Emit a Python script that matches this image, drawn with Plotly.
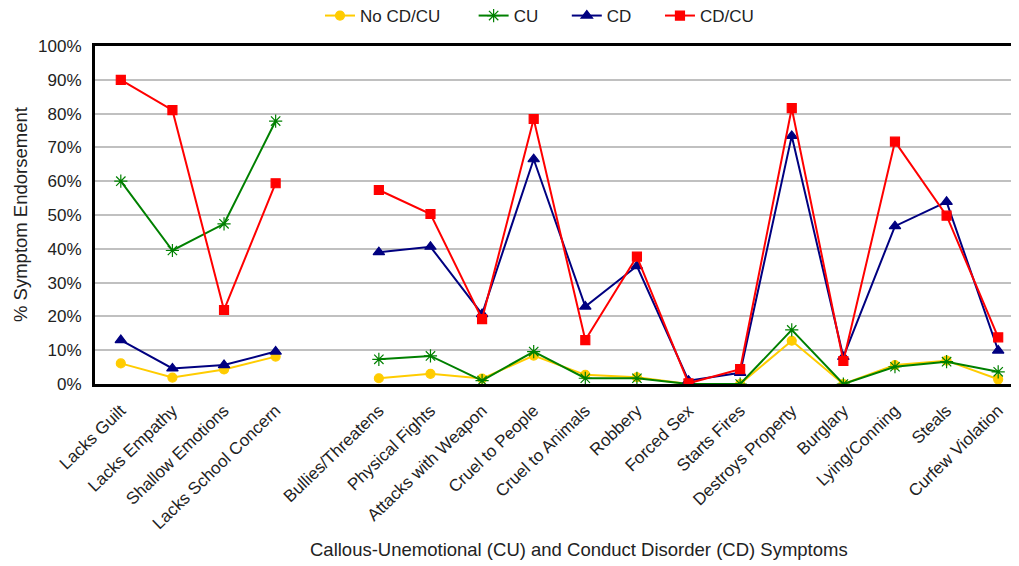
import plotly.graph_objects as go

categories = ["Lacks Guilt", "Lacks Empathy", "Shallow Emotions", "Lacks School Concern", " ",
              "Bullies/Threatens", "Physical Fights", "Attacks with Weapon", "Cruel to People",
              "Cruel to Animals", "Robbery", "Forced Sex", "Starts Fires", "Destroys Property",
              "Burglary", "Lying/Conning", "Steals", "Curfew Violation"]

no_cd_cu = [6.1, 1.9, 4.3, 8.1, None, 1.7, 3.0, 1.6, 8.4, 2.7, 2.0, 0.0, 0.0, 12.8, 0.0, 5.6, 6.9, 1.4]
cu       = [60.0, 39.5, 47.4, 77.8, None, 7.3, 8.3, 1.0, 9.6, 1.7, 1.7, 0.0, 0.0, 16.0, 0.0, 5.1, 6.6, 3.6]
cd       = [13.0, 4.6, 5.6, 9.6, None, 39.0, 40.6, 20.7, 66.5, 22.9, 34.9, 1.0, 3.3, 73.4, 8.0, 46.7, 53.9, 9.9]
cd_cu    = [90.0, 81.0, 21.9, 59.4, None, 57.4, 50.3, 19.2, 78.4, 13.0, 37.7, 0.2, 4.4, 81.6, 6.8, 71.7, 49.8, 13.8]

series_names = ["No CD/CU", "CU", "CD", "CD/CU"]

FONT = "Liberation Sans, Arial, sans-serif"
FS = 17
FT = 18.5
TXT = "#222222"

# page offset (body margin) compensation
OX, OY = 8, 8
W, H = 1019, 566
PL, PR, PT, PB = 95, 1024, 46, 384  # plot area in page pixels
ml, mr, mt = PL - OX, W - (PR - OX), PT - OY
mb = H - (PB - OY)
pw, ph = PR - PL, PB - PT

def px_x(x):
    return (x - PL) / pw

def px_y(y):
    return (PB - y) / ph

fig = go.Figure()
styles = [
    ("#FFCC00", "circle", 9),
    ("#008000", "asterisk-open", 11),
    ("#000080", "triangle-up", 10),
    ("#FF0000", "square", 9),
]
pads = [6, 5, 5, 5]
for name, vals, (col, sym, sz), p in zip(series_names, [no_cd_cu, cu, cd, cd_cu], styles, pads):
    fig.add_trace(go.Scatter(
        x=categories, y=vals, name=name + "\u00a0" * p, mode="lines+markers",
        line=dict(color=col, width=2),
        marker=dict(symbol=sym, size=sz, color=col, line=dict(color=col, width=1.2)),
    ))

fig.update_layout(
    width=W, height=H,
    margin=dict(l=ml, r=mr, t=mt, b=mb, autoexpand=False),
    paper_bgcolor="white", plot_bgcolor="white",
    font=dict(family=FONT, size=FS, color=TXT),
    showlegend=True,
    legend=dict(orientation="h", x=px_x(320), xanchor="left", y=px_y(16), yanchor="middle",
                font=dict(family=FONT, size=FS, color=TXT), bgcolor="rgba(0,0,0,0)"),
    xaxis=dict(
        type="category", categoryorder="array", categoryarray=categories,
        range=[-0.5, 17.5], tickangle=-44, showgrid=False,
        ticks="outside", ticklen=7, tickcolor="rgba(0,0,0,0)",
        showline=True, linecolor="black", linewidth=3, mirror=True,
        tickfont=dict(family=FONT, size=FS, color=TXT),
    ),
    yaxis=dict(
        range=[0, 100], dtick=10, ticksuffix="%", showgrid=True, gridcolor="#c0c0c0", gridwidth=1.5,
        showline=True, linecolor="black", linewidth=3, mirror=False, ticks="",
        zeroline=False, ticklabelstandoff=7,
        tickfont=dict(family=FONT, size=FS, color=TXT),
    ),
    annotations=[
        dict(text="Callous-Unemotional (CU) and Conduct Disorder (CD) Symptoms",
             xref="paper", yref="paper", x=px_x(579), y=px_y(549),
             xanchor="center", yanchor="middle", showarrow=False,
             font=dict(family=FONT, size=FT, color=TXT)),
        dict(text="% Symptom Endorsement", textangle=-90,
             xref="paper", yref="paper", x=px_x(20), y=px_y(215),
             xanchor="center", yanchor="middle", showarrow=False,
             font=dict(family=FONT, size=FT, color=TXT)),
    ],
)

fig.write_html("out.html")
